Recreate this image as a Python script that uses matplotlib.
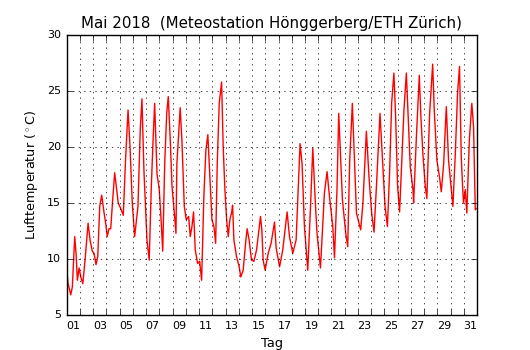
import matplotlib
matplotlib.use("Agg")
import matplotlib.pyplot as plt

# Zeitpunkte (Tag im Mai, Bruchteile = Tageszeit) und Lufttemperatur in °C
tage = [1.00, 1.10, 1.30, 1.42, 1.60, 1.70, 1.80, 1.93, 2.06, 2.21,
        2.38, 2.61, 2.76, 2.93, 3.06, 3.21, 3.34, 3.49, 3.64, 3.82,
        3.94, 4.06, 4.19, 4.32, 4.47, 4.62, 4.77, 4.89, 5.08, 5.27,
        5.45, 5.63, 5.78, 5.95, 6.13, 6.38, 6.55, 6.68, 6.83, 7.06,
        7.23, 7.38, 7.51, 7.64, 7.82, 7.99, 8.14, 8.25, 8.40, 8.55,
        8.67, 8.82, 8.95, 9.15, 9.25, 9.32, 9.57, 9.70, 9.88, 10.03,
        10.21, 10.33, 10.46, 10.58, 10.71, 10.89, 11.04, 11.19, 11.36, 11.51,
        11.66, 11.82, 11.97, 12.12, 12.25, 12.37, 12.52, 12.70, 12.82, 12.95,
        13.08, 13.20, 13.32, 13.45, 13.53, 13.63, 13.83, 14.03, 14.15, 14.33,
        14.51, 14.63, 14.78, 14.96, 15.14, 15.34, 15.49, 15.64, 15.74, 15.84,
        15.99, 16.22, 16.44, 16.70, 16.82, 17.08, 17.32, 17.65, 17.83, 18.08,
        18.33, 18.63, 18.78, 18.96, 19.21, 19.42, 19.59, 19.76, 19.91, 20.17,
        20.47, 20.67, 20.85, 21.10, 21.23, 21.42, 21.55, 21.70, 21.83, 22.08,
        22.23, 22.38, 22.58, 22.74, 22.89, 23.21, 23.38, 23.64, 23.84, 24.04,
        24.22, 24.40, 24.67, 24.85, 25.05, 25.23, 25.40, 25.55, 25.72, 25.85,
        26.00, 26.15, 26.48, 26.66, 26.83, 26.96, 27.16, 27.21, 27.42, 27.64,
        27.76, 27.91, 28.09, 28.21, 28.42, 28.65, 28.77, 28.97, 29.17, 29.30,
        29.48, 29.68, 29.85, 30.06, 30.18, 30.36, 30.53, 30.68, 30.81, 30.91,
        30.98, 31.11, 31.23, 31.42, 31.61, 31.74, 31.87, 31.94]
temperatur = [9.0, 7.8, 6.8, 7.5, 12.0, 10.5, 8.1, 9.2, 8.4, 7.8,
              9.9, 13.2, 11.7, 10.7, 10.5, 9.5, 10.2, 14.7, 15.7, 14.1,
              13.2, 12.0, 12.7, 12.7, 15.3, 17.7, 16.2, 15.0, 14.5, 13.9,
              19.1, 23.3, 20.0, 15.0, 12.0, 14.7, 21.5, 24.3, 17.9, 11.7,
              9.9, 16.2, 20.3, 23.9, 17.6, 16.2, 13.2, 10.7, 18.5, 23.0,
              24.5, 20.6, 16.5, 13.8, 12.3, 18.5, 23.5, 20.6, 14.7, 13.5,
              13.8, 12.0, 12.9, 14.2, 10.8, 9.6, 9.8, 8.1, 15.6, 19.7,
              21.1, 17.1, 13.5, 12.9, 11.4, 18.5, 23.9, 25.8, 20.0, 16.2,
              13.5, 12.0, 13.5, 14.1, 14.8, 11.7, 10.2, 9.3, 8.4, 9.0,
              11.4, 12.7, 11.7, 9.9, 9.8, 10.8, 12.3, 13.8, 12.6, 9.9,
              9.0, 10.5, 11.4, 13.3, 11.0, 9.3, 10.8, 14.2, 12.0, 10.5,
              11.7, 20.3, 18.5, 12.9, 9.0, 14.7, 19.9, 15.6, 12.3, 9.2,
              15.9, 17.8, 15.6, 12.9, 10.1, 16.2, 23.0, 18.8, 15.3, 12.3,
              11.1, 18.8, 23.9, 18.8, 14.1, 12.6, 15.0, 21.4, 17.3, 14.1,
              12.4, 16.5, 23.0, 19.1, 14.7, 12.9, 17.9, 23.9, 26.6, 22.7,
              16.5, 14.2, 23.3, 26.6, 21.8, 18.2, 16.2, 15.0, 20.9, 26.4,
              22.7, 19.4, 16.5, 15.4, 23.0, 27.4, 23.3, 18.8, 17.3, 16.0,
              18.5, 23.6, 18.8, 16.2, 14.7, 19.4, 24.8, 27.2, 19.1, 16.5,
              15.0, 16.2, 14.1, 20.6, 23.9, 21.8, 14.4, 14.5]

tag_labels = ["%02d" % t for t in range(1, 32, 2)]

plt.style.use("classic")
fig, ax = plt.subplots(figsize=(5.3, 3.5), dpi=100)
fig.subplots_adjust(left=0.126, right=0.9, bottom=0.1, top=0.9)

ax.plot(tage, temperatur, "r-", linewidth=1.0)

ax.set_xlim(1, 32)
ax.set_ylim(5, 30)
ax.set_yticks(range(5, 31, 5))
ax.set_xticks(range(1, 33))
ax.set_xticklabels([])
ax.set_xticks([t + 0.5 for t in range(1, 32, 2)], minor=True)
ax.set_xticklabels(tag_labels, minor=True)
ax.tick_params(axis="x", which="minor", length=0, labelsize=8)
ax.tick_params(axis="both", which="major", labelsize=8)
ax.grid(True, which="major", color="k", linestyle=":")

ax.set_title("Mai 2018  (Meteostation Hönggerberg/ETH Zürich)", fontsize=10.8)
ax.set_xlabel("Tag", fontsize=9.4)
ax.set_ylabel(r"Lufttemperatur ($^\circ$C)", fontsize=9.2)

fig.savefig("out.png", dpi=100, facecolor="white")
